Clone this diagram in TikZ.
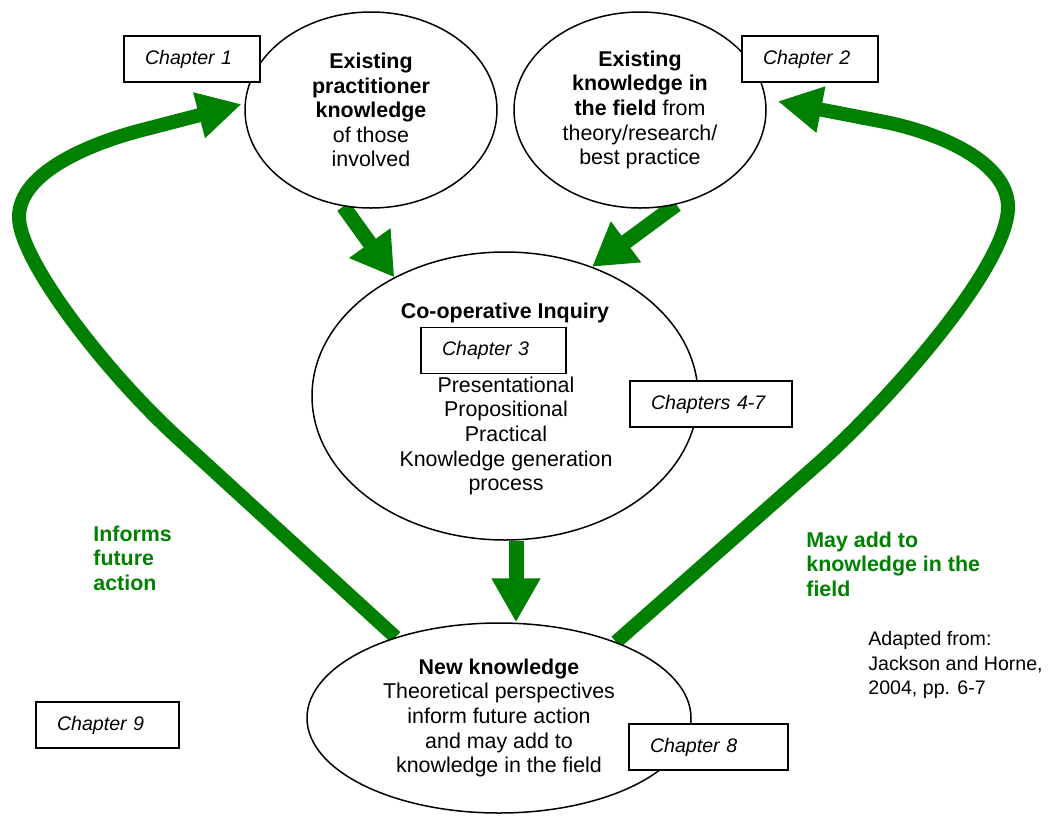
\documentclass[tikz,border=0pt]{standalone}
\usepackage{fontspec}
\setmainfont{Liberation Sans}
\usetikzlibrary{arrows.meta,calc,positioning,shapes.geometric,backgrounds}
\definecolor{ciGreen}{RGB}{0,128,0}
\tikzset{
  bubble/.style  = {ellipse, draw, fill=white, line width=0.75pt, inner sep=0pt, align=center},
  chap/.style    = {draw, fill=white, line width=0.75pt, font=\fontsize{9.8}{12}\selectfont\itshape,
                    minimum height=23pt, inner xsep=10.5pt, inner ysep=0pt, text width=#1, align=left},
  vec/.style     = {-{Triangle[length=21pt,width=24pt]}, line width=7.5pt, ciGreen},
  loopvec/.style = {-{Triangle[length=22pt,width=22pt]}, line width=7pt, ciGreen,
                    line join=round},
  note/.style    = {font=\bfseries, text=ciGreen, align=left, anchor=west, inner sep=0pt},
}

\begin{document}
\fontsize{10.7}{12.3}\selectfont
\begin{tikzpicture}[x=0.5pt,y=-0.5pt]
  \useasboundingbox (0,0) rectangle (1055,815);
  % knowledge bubbles
  \node[bubble, minimum width=126pt, minimum height=98pt] (e1) at (371,110)
    {\textbf{Existing}\\\textbf{practitioner}\\\textbf{knowledge}\\of those\\involved};
  \node[bubble, minimum width=126pt, minimum height=98pt] (e2) at (640,110)
    {\textbf{Existing}\\\textbf{knowledge in}\\\textbf{the field} from\\theory/research/\\best practice};
  \node[bubble, minimum width=193pt, minimum height=144pt] (e3) at (505,396) {};
  \node[font=\bfseries] (e3title) at (505,313) {Co-operative Inquiry};
  \node[align=center] (e3text) at (506,436)
    {Presentational\\Propositional\\Practical\\Knowledge generation\\process};
  \node[bubble, minimum width=192pt, minimum height=95pt] (e4) at (499,718)
    {\textbf{New knowledge}\\Theoretical perspectives\\inform future action\\and may add to\\knowledge in the field};

  % chapter boxes
  \node[chap=47pt] (ch1) at (192,59) {Chapter 1};
  \node[chap=47pt] (ch2) at (810,59) {Chapter 2};
  \node[chap=51.5pt] (ch3) at (493.5,350.5) {Chapter 3};
  \node[chap=60pt] (ch47) at (711,404) {\mbox{Chapters 4-7}};
  \node[chap=58.5pt] (ch8) at (708.5,747) {Chapter 8};
  \node[chap=50.5pt] (ch9) at (107.5,725) {Chapter 9};

  % labels
  \node[note] (inform) at (93,558) {Informs\\future\\action};
  \node[note] (mayadd) at (806,564) {May add to\\knowledge in the\\field};
  \node[align=left, anchor=west, inner sep=0pt, font=\fontsize{9.8}{12.3}\selectfont]
    (source) at (868,665) {Adapted from:\\Jackson and Horne,\\2004, pp. 6-7};

  % flows
  \begin{scope}[on background layer]
    \draw[vec] (e1.254) -- (e3.133);
    \draw[vec] (e2.291) -- (e3.56);
    \coordinate (cdrop) at (516,0);
    \draw[vec, -{Triangle[length=22pt,width=23pt]}] (e3.south -| cdrop) -- (e4.north -| cdrop);
    \coordinate (lbend) at (180,440);
    \coordinate (lfar) at (19,217);
    \coordinate (ltop) at (150,128);
    \draw[loopvec, shorten >=1.5pt] (e4.142) -- (lbend)
      .. controls (106,373) and (19,260) .. (lfar)
      .. controls (19,172) and (92,142) .. (ltop) -- (e1.177);
    \coordinate (rbend) at (820,462);
    \coordinate (rfar) at (1008,207);
    \coordinate (rtop) at (880,121);
    \draw[loopvec, shorten >=6pt] (e4.33) -- (rbend)
      .. controls (887,402) and (1008,267) .. (rfar)
      .. controls (1008,162) and (939,132) .. (rtop) -- (e2.5);
  \end{scope}
\end{tikzpicture}
\end{document}
